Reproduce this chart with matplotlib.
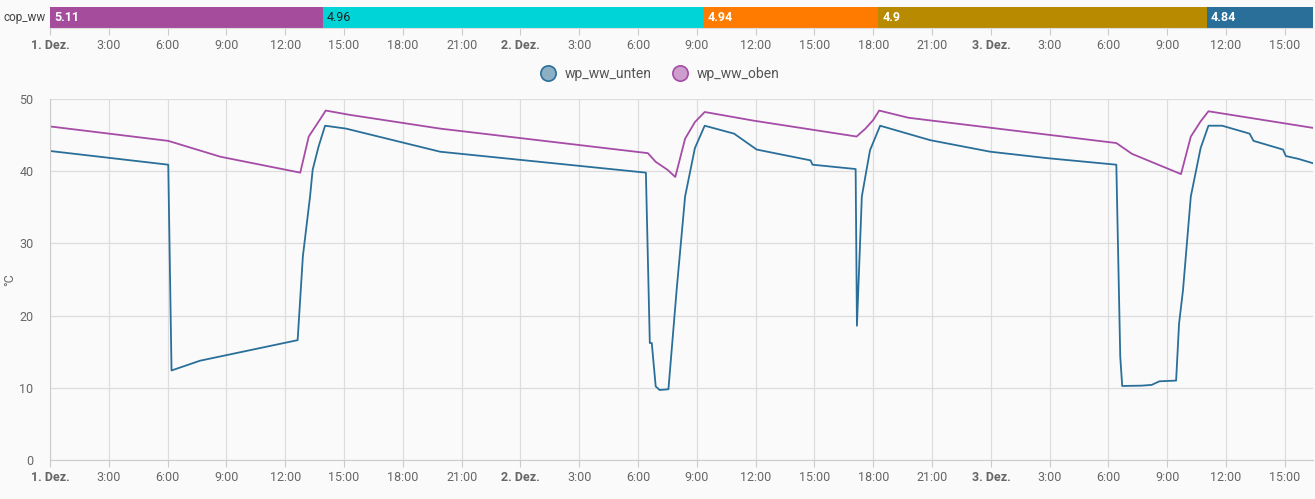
import matplotlib
matplotlib.use("Agg")
import matplotlib.pyplot as plt
from matplotlib.lines import Line2D
import pandas as pd

plt.rcParams['font.family'] = ['Roboto', 'DejaVu Sans']

# cop_ww timeline segments (start, end, value, color)
seg_starts = ["2023-12-01 00:00", "2023-12-01 13:56", "2023-12-02 09:20", "2023-12-02 18:16", "2023-12-03 11:01"]
seg_ends = ["2023-12-01 13:56", "2023-12-02 09:20", "2023-12-02 18:16", "2023-12-03 11:01", "2023-12-03 16:26"]
seg_labels = ["5.11", "4.96", "4.94", "4.9", "4.84"]
seg_colors = ["#a54c9c", "#00d4d6", "#ff7b00", "#b88a00", "#2a6f99"]
seg_text_colors = ["white", "#222222", "white", "white", "white"]

# wp_ww_oben
oben_t = ["2023-12-01 00:00", "2023-12-01 06:02", "2023-12-01 08:42", "2023-12-01 12:46",
          "2023-12-01 13:12", "2023-12-01 13:47", "2023-12-01 14:04", "2023-12-01 15:18",
          "2023-12-01 19:54", "2023-12-02 06:30", "2023-12-02 06:54", "2023-12-02 07:30",
          "2023-12-02 07:54", "2023-12-02 08:24", "2023-12-02 08:54", "2023-12-02 09:24",
          "2023-12-02 11:54", "2023-12-02 17:09", "2023-12-02 17:36", "2023-12-02 18:00",
          "2023-12-02 18:18", "2023-12-02 19:48", "2023-12-03 06:24", "2023-12-03 07:12",
          "2023-12-03 09:42", "2023-12-03 10:12", "2023-12-03 10:42", "2023-12-03 11:06",
          "2023-12-03 16:26"]
oben_v = [46.2, 44.2, 42.0, 39.8,
          44.8, 47.2, 48.4, 47.8,
          45.9, 42.5, 41.3, 40.2,
          39.2, 44.5, 46.8, 48.2,
          47.0, 44.8, 45.9, 47.1,
          48.4, 47.4, 43.9, 42.4,
          39.6, 44.8, 46.9, 48.3,
          46.0]

# wp_ww_unten
unten_t = ["2023-12-01 00:00", "2023-12-01 06:02", "2023-12-01 06:12", "2023-12-01 07:39",
           "2023-12-01 12:38", "2023-12-01 12:54", "2023-12-01 13:16", "2023-12-01 13:24",
           "2023-12-01 13:42", "2023-12-01 14:02", "2023-12-01 15:06", "2023-12-01 19:54",
           "2023-12-02 06:24", "2023-12-02 06:36", "2023-12-02 06:42", "2023-12-02 06:54",
           "2023-12-02 07:06", "2023-12-02 07:33", "2023-12-02 07:58", "2023-12-02 08:24",
           "2023-12-02 08:54", "2023-12-02 09:24", "2023-12-02 10:54", "2023-12-02 12:03",
           "2023-12-02 14:48", "2023-12-02 14:54", "2023-12-02 17:06", "2023-12-02 17:10",
           "2023-12-02 17:25", "2023-12-02 17:50", "2023-12-02 18:21", "2023-12-02 20:54",
           "2023-12-02 23:58", "2023-12-03 02:54", "2023-12-03 06:24", "2023-12-03 06:36",
           "2023-12-03 06:42", "2023-12-03 07:42", "2023-12-03 08:12", "2023-12-03 08:36",
           "2023-12-03 09:27", "2023-12-03 09:36", "2023-12-03 09:48", "2023-12-03 10:12",
           "2023-12-03 10:42", "2023-12-03 11:06", "2023-12-03 11:48", "2023-12-03 13:12",
           "2023-12-03 13:24", "2023-12-03 14:54", "2023-12-03 15:03", "2023-12-03 15:42",
           "2023-12-03 16:26"]
unten_v = [42.8, 40.9, 12.4, 13.75,
           16.6, 28.2, 36.5, 40.2,
           43.4, 46.3, 45.9, 42.7,
           39.8, 16.2, 16.2, 10.2,
           9.7, 9.8, 23.5, 36.5,
           43.2, 46.3, 45.2, 43.0,
           41.5, 40.9, 40.3, 18.6,
           36.5, 42.9, 46.3, 44.3,
           42.7, 41.8, 40.9, 14.3,
           10.25, 10.3, 10.4, 10.9,
           11.0, 18.9, 23.5, 36.5,
           43.2, 46.3, 46.3, 45.2,
           44.2, 43.0, 42.1, 41.7,
           41.1]

tick_times = pd.date_range("2023-12-01 00:00", "2023-12-03 15:00", freq="3h")
tick_labels = [f"{t.day}. Dez." if t.hour == 0 else f"{t.hour}:00" for t in tick_times]
x_start = pd.Timestamp("2023-12-01 00:00")
x_end = pd.Timestamp("2023-12-03 16:26")

c_unten = "#2a6f99"
c_oben = "#a54ca6"
bg = "#fafafa"
txt = "#666666"

W, H = 1315, 499
fig = plt.figure(figsize=(W / 100, H / 100), dpi=100, facecolor=bg)

def set_time_axis(ax):
    ax.set_xlim(x_start, x_end)
    ax.set_xticks(tick_times)
    ax.set_xticklabels(tick_labels)
    for lab, t in zip(ax.get_xticklabels(), tick_times):
        if t.hour == 0:
            lab.set_fontweight("bold")
    ax.tick_params(axis="x", colors="#cccccc", labelcolor=txt, labelsize=9, length=5, pad=3)

# timeline
ax_t = fig.add_axes([50 / W, 1 - 28 / H, 1263 / W, 21 / H], facecolor=bg)
for s, e, lab, col, tc in zip(seg_starts, seg_ends, seg_labels, seg_colors, seg_text_colors):
    s, e = pd.Timestamp(s), pd.Timestamp(e)
    ax_t.barh(0, e - s, left=s, height=1, color=col, align="center")
    ax_t.text(s + pd.Timedelta(minutes=12), 0, lab, color=tc, va="center", ha="left",
              fontsize=9, fontweight="bold" if tc == "white" else "normal")
ax_t.set_ylim(-0.5, 0.5)
ax_t.set_yticks([])
set_time_axis(ax_t)
for sp in ["top", "left", "right"]:
    ax_t.spines[sp].set_visible(False)
ax_t.spines["bottom"].set_color("#dddddd")
fig.text(4 / W, 1 - 17.5 / H, "cop_ww", color="#444444", fontsize=8.5, va="center", ha="left")

# main chart
ax = fig.add_axes([50 / W, 1 - 460 / H, 1263 / W, 361 / H], facecolor=bg)
ax.plot(pd.to_datetime(unten_t), unten_v, color=c_unten, lw=1.3)
ax.plot(pd.to_datetime(oben_t), oben_v, color=c_oben, lw=1.3)
ax.set_ylim(0, 50)
ax.set_yticks([0, 10, 20, 30, 40, 50])
ax.tick_params(axis="y", colors=txt, labelsize=9, length=0, pad=12)
set_time_axis(ax)
ax.grid(True, color="#dddddd", lw=0.9)
ax.set_axisbelow(True)
for sp in ["top", "right"]:
    ax.spines[sp].set_visible(False)
ax.spines["left"].set_color("#cccccc")
ax.spines["bottom"].set_color("#cccccc")
fig.text(10 / W, 1 - 280 / H, "°C", rotation=90, color=txt, fontsize=9, va="center", ha="center")

handles = [
    Line2D([], [], marker="o", ls="", markersize=11, markerfacecolor=c_unten + "88",
           markeredgecolor=c_unten, markeredgewidth=1.2, label="wp_ww_unten"),
    Line2D([], [], marker="o", ls="", markersize=11, markerfacecolor=c_oben + "88",
           markeredgecolor=c_oben, markeredgewidth=1.2, label="wp_ww_oben"),
]
leg = fig.legend(handles=handles, loc="center", bbox_to_anchor=(657 / W, 1 - 74 / H), ncol=2,
                 frameon=False, fontsize=10, handletextpad=0.2, columnspacing=1.0)
for t in leg.get_texts():
    t.set_color("#555555")

fig.savefig("out.png", dpi=100, facecolor=bg)
